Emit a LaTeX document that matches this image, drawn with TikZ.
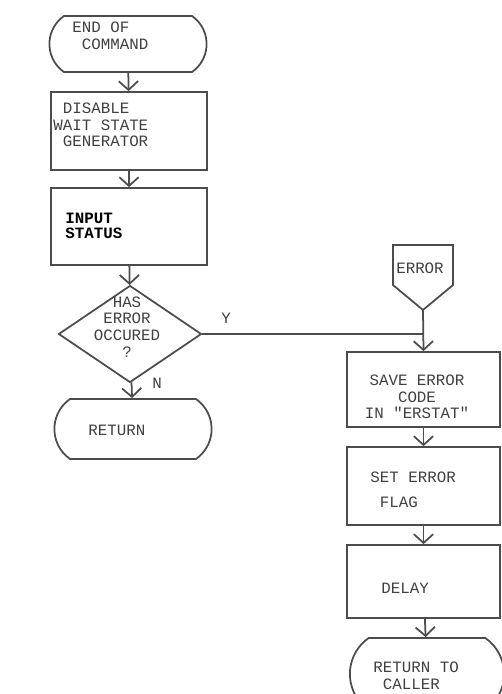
\documentclass[tikz,border=0pt]{standalone}
\usepackage{fontspec}
\setmonofont{Liberation Mono}
\usetikzlibrary{shapes.geometric, shapes.misc, arrows.meta}
\tikzset{
  flow/.style={draw=black!70, line width=1pt},
  box/.style={flow, rectangle, minimum width=3.06cm},
  term/.style={flow, rounded rectangle, rounded rectangle arc length=110, minimum width=3.38cm},
  decision/.style={flow, diamond, minimum width=2.86cm, minimum height=1.94cm, inner sep=0pt},
  txt/.style={font=\ttfamily\fontsize{9}{9.5}\selectfont, text=black!75, inner sep=0pt, align=left, anchor=west},
  arr/.style={flow, -{Straight Barb[length=5pt, width=11pt]}},
}
\newcommand{\ind}{\phantom{C}}

\begin{document}
\begin{tikzpicture}[x=0.02cm, y=-0.02cm]
  \useasboundingbox (0,0) rectangle (502,694);
  \clip (0,0) rectangle (502,694);
  %Left column
  \node[term, minimum height=1.12cm] (start) at (128,44) {};
  \node[box, minimum width=3.12cm, minimum height=1.56cm] (disable) at (129,131) {};
  \node[box, minimum width=3.12cm, minimum height=1.54cm] (input) at (129,226.5) {};
  \node[decision] (dec) at (130,334) {};
  \node[term, minimum height=1.2cm] (ret) at (133,429) {};
  %Right column
  \node[txt, anchor=center] (err) at (420,268) {ERROR};
  \coordinate (errtip) at (423,310);
  \draw[flow] (errtip) -- (453,285) -- (453,245) -- (393,245) -- (393,285) -- cycle;
  \node[box, minimum height=1.5cm] (save) at (423.5,389.5) {};
  \node[box, minimum height=1.56cm] (flag) at (423.5,486) {};
  \node[box, minimum height=1.46cm] (delay) at (423.5,581.5) {};
  \node[term, minimum width=3.32cm, minimum height=1.44cm] (caller) at (427,674) {};
  %Texts
  \node[txt] (tstart) at (72,36) {END OF\\\ind COMMAND};
  \node[txt] (tdisable) at (53,125) {\ind DISABLE\\WAIT STATE\\\ind GENERATOR};
  \node[txt, text=black, font=\ttfamily\bfseries\fontsize{9}{8.5}\selectfont] (tinput) at (65,226) {INPUT\\STATUS};
  \node[txt, align=center, anchor=center] (tdec) at (127,327) {HAS\\ERROR\\OCCURED\\?};
  \node[txt, anchor=center] (ty) at (226,318) {Y};
  \node[txt, anchor=center] (tn) at (157,383) {N};
  \node[txt] (tret) at (88,430) {RETURN};
  \node[txt, align=center, anchor=center] (tsave) at (417,397) {SAVE ERROR\\CODE\\IN "ERSTAT"};
  \node[txt] (tflag) at (370,489.5) {SET ERROR\\[4.5pt]\ind FLAG};
  \node[txt] (tdelay) at (381,588) {DELAY};
  \node[txt] (tcaller) at (373,676) {RETURN TO\\\ind CALLER};
  %Connectors
  \draw[arr] (start) -- (disable);
  \draw[arr] (disable) -- (input);
  \draw[arr] (input) -- (dec);
  \draw[arr] (dec) -- (ret);
  \draw[flow] (dec.east) -- (dec.east -| save.north);
  \draw[arr] (errtip) -- (save.north);
  \draw[arr] (save) -- (flag);
  \draw[arr] (flag) -- (delay);
  \draw[arr] (delay) -- (caller);
\end{tikzpicture}
\end{document}
